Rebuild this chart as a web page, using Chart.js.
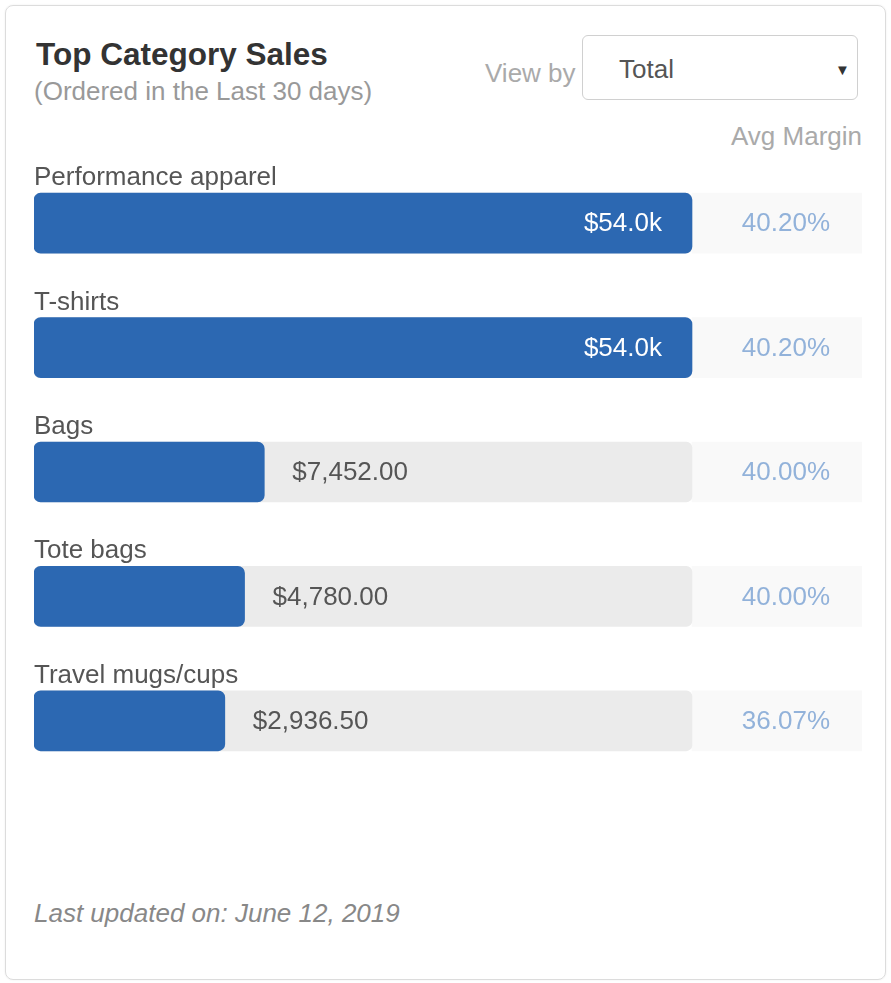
<!DOCTYPE html>
<html>
<head>
<meta charset="utf-8">
<script src="https://cdn.jsdelivr.net/npm/chart.js@4"></script>
<style>
    body { margin: 0; background: #fff; font-family: "Liberation Sans", Arial, sans-serif; }
    .wrap { position: relative; width: 891px; height: 983px; overflow: hidden; }
    .card { position: absolute; left: 5px; top: 5px; width: 879px; height: 973px; border: 1px solid #dcdcdc; border-radius: 8px; box-shadow: 0 0 2px rgba(0,0,0,0.08); }
    .txt { position: absolute; white-space: nowrap; line-height: 1; }
    .title { left: 36px; top: 39px; font-size: 31.5px; font-weight: bold; color: #333; }
    .sub { left: 34px; top: 78px; font-size: 26px; color: #999; }
    .viewby { left: 485px; top: 60px; font-size: 26px; color: #aaa; }
    .select { position: absolute; left: 582px; top: 35px; width: 276px; height: 65px; border: 1px solid #d0d0d0; border-radius: 6px; box-sizing: border-box; }
    .select .val { left: 36px; top: 20px; font-size: 26px; color: #555; }
    .select .arrow { left: 252px; top: 26px; font-size: 15px; color: #333; }
    .avg { right: 29px; top: 123px; font-size: 26px; color: #aaa; }
    .foot { left: 34px; top: 900px; font-size: 26px; font-style: italic; color: #888; }
    #bars { position: absolute; left: 34px; top: 161px; }
</style>
</head>
<body>
<div class="wrap">
    <div class="card"></div>
    <div class="txt title">Top Category Sales</div>
    <div class="txt sub">(Ordered in the Last 30 days)</div>
    <div class="txt viewby">View by</div>
    <div class="select">
        <div class="txt val">Total</div>
        <div class="txt arrow">&#9660;</div>
    </div>
    <div class="txt avg">Avg Margin</div>
    <canvas id="bars" width="828" height="622"></canvas>
    <div class="txt foot">Last updated on: June 12, 2019</div>
</div>
<script>
    const categories = ["Performance apparel", "T-shirts", "Bags", "Tote bags", "Travel mugs/cups"];
    const sales = [54000, 54000, 7452, 4780, 2936.5];
    // filled share of the grey track, in percent, as drawn in the picture
    const barFill = [100, 100, 35, 32, 29];
    const avgMargin = [40.20, 40.20, 40.00, 40.00, 36.07];

    const trackEnd = 100;
    const marginEnd = 125.84;
    const fontFamily = '"Liberation Sans", Arial, sans-serif';

    function formatSales(v) {
        if (v >= 10000) return "$" + (v / 1000).toFixed(1) + "k";
        return "$" + v.toLocaleString("en-US", { minimumFractionDigits: 2, maximumFractionDigits: 2 });
    }

    const labelPlugin = {
        id: "rowLabels",
        afterDatasetsDraw(chart) {
            const ctx = chart.ctx;
            const fillMeta = chart.getDatasetMeta(2);
            const cellMeta = chart.getDatasetMeta(1);
            ctx.save();
            ctx.font = "26px " + fontFamily;
            fillMeta.data.forEach((bar, i) => {
                const top = bar.y - bar.height / 2;
                // category name above the bar
                ctx.textAlign = "left";
                ctx.textBaseline = "alphabetic";
                ctx.fillStyle = "#555";
                ctx.fillText(categories[i], bar.base, top - 8);

                // value
                ctx.textBaseline = "middle";
                if (sales[i] >= 10000) {
                    ctx.textAlign = "right";
                    ctx.fillStyle = "#fff";
                    ctx.fillText(formatSales(sales[i]), bar.x - 30, bar.y + 1);
                } else {
                    ctx.textAlign = "left";
                    ctx.fillStyle = "#555";
                    ctx.fillText(formatSales(sales[i]), bar.x + 28, bar.y + 1);
                }

                // margin
                const cell = cellMeta.data[i];
                ctx.textAlign = "right";
                ctx.fillStyle = "#92b2da";
                ctx.fillText(avgMargin[i].toFixed(2) + "%", cell.x - 32, bar.y + 1);
            });
            ctx.restore();
        }
    };

    new Chart(document.getElementById("bars").getContext("2d"), {
        type: "bar",
        data: {
            labels: categories,
            datasets: [
                {
                    label: "track",
                    data: categories.map(() => trackEnd),
                    backgroundColor: "#ebebeb",
                    borderRadius: 6,
                    borderSkipped: false,
                    order: 3
                },
                {
                    label: "margin cell",
                    data: categories.map(() => [trackEnd, marginEnd]),
                    backgroundColor: "#f9f9f9",
                    borderRadius: 0,
                    order: 4
                },
                {
                    label: "sales",
                    data: barFill,
                    backgroundColor: "#2c68b2",
                    borderRadius: 7,
                    borderSkipped: false,
                    order: 1
                }
            ]
        },
        options: {
            indexAxis: "y",
            responsive: false,
            animation: false,
            grouped: false,
            barThickness: 60,
            layout: { padding: 0 },
            plugins: {
                legend: { display: false },
                tooltip: { enabled: false }
            },
            scales: {
                x: { display: false, min: 0, max: marginEnd },
                y: { display: false }
            }
        },
        plugins: [labelPlugin]
    });
</script>
</body>
</html>
